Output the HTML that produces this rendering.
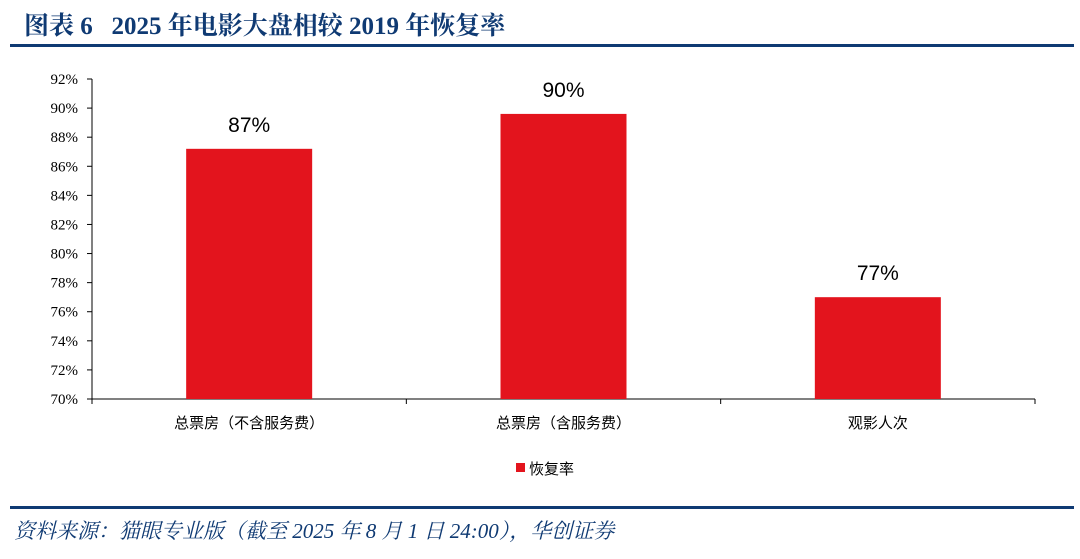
<!DOCTYPE html>
<html><head><meta charset="utf-8"><style>
body{margin:0;width:1080px;height:559px;background:#fff;overflow:hidden;font-family:"Liberation Serif","Noto Serif CJK SC",serif}
.t{position:absolute;left:24px;top:6px;font-size:25px;font-weight:bold;color:#0f3a73;white-space:nowrap}
.src{position:absolute;left:14px;top:515px;font-size:21px;font-style:italic;color:#0f3a73;white-space:nowrap}
.ln{position:absolute;left:10px;width:1064px;height:3px;background:#0f3a73}
</style></head><body>
<div class="t">图表 6&nbsp;&nbsp;&nbsp;2025 年电影大盘相较 2019 年恢复率</div>
<div class="ln" style="top:44px"></div>
<svg id="c" width="1080" height="559" style="position:absolute;left:0;top:0"></svg>
<div class="ln" style="top:506px"></div>
<div class="src">资料来源：猫眼专业版（截至 2025 年 8 月 1 日 24:00），华创证券</div>
<script>
const categories=["总票房（不含服务费）","总票房（含服务费）","观影人次"];
const values=[87.2,89.6,77.0];
const labels=["87%","90%","77%"];
const ticks=[70,72,74,76,78,80,82,84,86,88,90,92];
const svg=document.getElementById('c');const NS='http://www.w3.org/2000/svg';
const x0=92,x1=1035,yT=79,yB=399,vmin=70,vmax=92;
const y=v=>yB-(v-vmin)/(vmax-vmin)*(yB-yT);
const bw=(x1-x0)/categories.length;
function mk(t,a,txt){const e=document.createElementNS(NS,t);for(const k in a)e.setAttribute(k,a[k]);if(txt!=null)e.textContent=txt;svg.appendChild(e);return e;}
let ax=mk('line',{x1:x0,y1:yT,x2:x0,y2:yB,stroke:'#000'});

let bx=mk('line',{x1:x0,y1:yB,x2:x1,y2:yB,stroke:'#000'});

ticks.forEach(t=>{
 mk('line',{x1:x0-5,y1:y(t),x2:x0,y2:y(t),stroke:'#000'});
 let e=mk('text',{x:x0-14,y:y(t)+5,'text-anchor':'end','font-size':'15','font-family':'Liberation Serif,serif'},t+'%');
 
});
for(let i=0;i<=categories.length;i++)mk('line',{x1:x0+i*bw,y1:yB,x2:x0+i*bw,y2:yB+5,stroke:'#000'});
categories.forEach((c,i)=>{
 const cx=x0+bw*(i+0.5),w=126;
 let r=mk('rect',{x:cx-w/2,y:y(values[i]),width:w,height:yB-y(values[i]),fill:'#e3141d'});
 
 let l=mk('text',{x:cx,y:y(values[i])-17,'text-anchor':'middle','font-size':'21','font-family':'Liberation Sans,sans-serif'},labels[i]);
 
 let k=mk('text',{x:cx,y:428,'text-anchor':'middle','font-size':'15','font-family':'Noto Sans CJK SC,sans-serif'},c);
 
});
let lg=mk('rect',{x:516,y:463,width:9,height:9,fill:'#e3141d'});

let lt=mk('text',{x:529,y:474,'font-size':'15','font-family':'Noto Sans CJK SC,sans-serif'},'恢复率');

</script>
</body></html>
